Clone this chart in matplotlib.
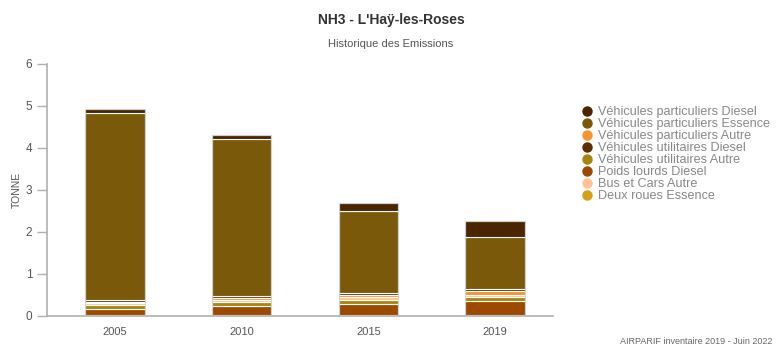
import matplotlib.pyplot as plt
from matplotlib.lines import Line2D
import numpy as np

years = ['2005', '2010', '2015', '2019']

# series listed bottom -> top of the stack
deux_roues_essence = [0.03, 0.03, 0.03, 0.03]
poids_lourds_diesel = [0.14, 0.20, 0.26, 0.33]
vu_autre = [0.09, 0.10, 0.10, 0.10]
bus_cars_autre = [0.04, 0.06, 0.07, 0.04]
vp_autre = [0.04, 0.05, 0.04, 0.09]
vu_diesel = [0.03, 0.04, 0.04, 0.05]
vp_essence = [4.47, 3.73, 1.96, 1.25]
vp_diesel = [0.08, 0.10, 0.18, 0.38]

stack = [
    ('Deux roues Essence', deux_roues_essence, '#D4A017'),
    ('Poids lourds Diesel', poids_lourds_diesel, '#9B4A00'),
    ('Véhicules utilitaires Autre', vu_autre, '#A8850F'),
    ('Bus et Cars Autre', bus_cars_autre, '#FFC394'),
    ('Véhicules particuliers Autre', vp_autre, '#F7922E'),
    ('Véhicules utilitaires Diesel', vu_diesel, '#5C2E00'),
    ('Véhicules particuliers Essence', vp_essence, '#7A5A0A'),
    ('Véhicules particuliers Diesel', vp_diesel, '#4B2500'),
]
legend_order = ['Véhicules particuliers Diesel', 'Véhicules particuliers Essence',
                'Véhicules particuliers Autre', 'Véhicules utilitaires Diesel',
                'Véhicules utilitaires Autre', 'Poids lourds Diesel',
                'Bus et Cars Autre', 'Deux roues Essence']

plt.rcParams['font.family'] = ['Liberation Sans', 'DejaVu Sans']

fig = plt.figure(figsize=(7.79, 3.47), dpi=100)
ax = fig.add_axes([47/779, 1-316/347, (553-47)/779, (316-64)/347])

x = np.arange(len(years))
bottom = np.zeros(len(years))
colors = {}
for name, vals, col in stack:
    ax.bar(x, vals, 0.47, bottom=bottom, color=col, edgecolor='white', linewidth=0.8)
    bottom += np.array(vals)
    colors[name] = col
# light outline around each bar
ax.bar(x, bottom, 0.47, fill=False, edgecolor='#d0d0d0', linewidth=0.8)

ax.set_xlim(-0.537, 3.458)
ax.set_ylim(0, 6)
ax.set_xticks(x)
ax.set_xticklabels(years, fontsize=8, color='#555555')
ax.set_yticks(range(7))
ax.tick_params(axis='y', labelsize=8.5, labelcolor='#555555', color='#b0b0b0', length=7, width=1)
ax.tick_params(axis='x', length=0, pad=8)
for s in ['top', 'right']:
    ax.spines[s].set_visible(False)
for s in ['left', 'bottom']:
    ax.spines[s].set_color('#b0b0b0')
    ax.spines[s].set_linewidth(1.2)
ax.set_ylabel('TONNE', fontsize=7.5, color='#555555', labelpad=3)

fig.text(391/779, 1-20/347, "NH3 - L'Haÿ-les-Roses", ha='center', va='center',
         fontsize=10, fontweight='bold', color='#333333')
fig.text(391/779, 1-44/347, 'Historique des Emissions', ha='center', va='center',
         fontsize=8, color='#555555')
fig.text(772/779, 1-342/347, 'AIRPARIF inventaire 2019 - Juin 2022', ha='right', va='center',
         fontsize=6.5, color='#666666')

handles = [Line2D([], [], marker='o', linestyle='none', markersize=6.5,
                  markerfacecolor=colors[n], markeredgecolor=colors[n]) for n in legend_order]
fig.legend(handles, legend_order, loc='upper left', bbox_to_anchor=(573/779, 1-100/347),
           frameon=False, handletextpad=0.25, labelspacing=0.0, borderpad=0,
           handlelength=1.2, prop={'family': 'Liberation Sans', 'size': 9.1},
           labelcolor='#888888')

fig.savefig('out.png', dpi=100)
